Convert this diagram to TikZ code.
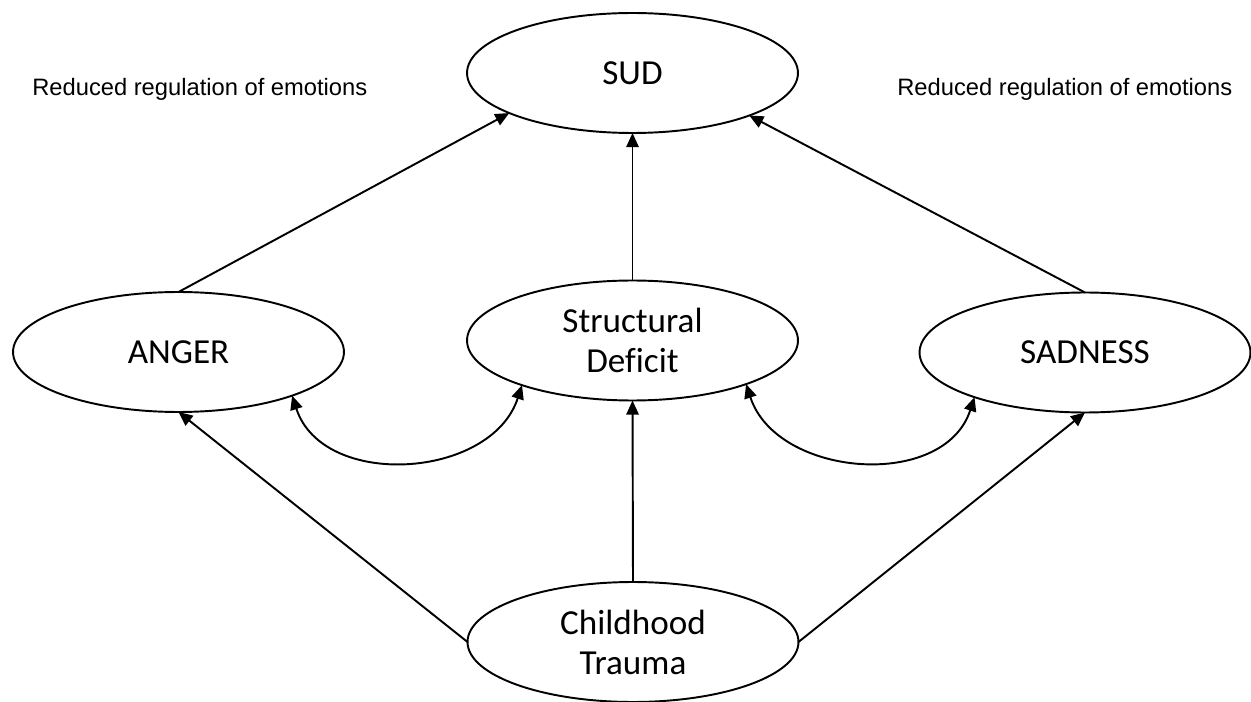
\documentclass[tikz,border=0pt]{standalone}
\usepackage{fontspec}
\setmainfont{Carlito}[Ligatures=NoCommon]
\newfontfamily\notefont{Liberation Sans}
\usepackage{tikz}
\usetikzlibrary{arrows.meta, positioning, shapes.geometric}

\begin{document}
\begin{tikzpicture}[
x=0.02cm, y=-0.02cm,
oval/.style={ellipse, draw, line width=1.1pt, inner sep=0pt, outer sep=0pt, minimum width=6.62cm, minimum height=2.4cm, align=center, font=\fontsize{20}{22.7}\selectfont},
arrow/.style={-{Triangle[length=8pt, width=7pt]}, line width=1.1pt},
dblarrow/.style={{Triangle[length=8pt, width=7pt]}-{Triangle[length=8pt, width=7pt]}, line width=1.1pt},
note/.style={anchor=west, inner sep=0pt, font=\notefont\fontsize{13.5}{16}\selectfont}
]
    \useasboundingbox (0,0) rectangle (1251,702);

    \node[oval] (SUD) at (632.5,73) {SUD};
    \node[oval] (ANGER) at (178.5,352) {ANGER};
    \node[oval] (SD) at (632.5,340.5) {Structural\\Deficit};
    \node[oval] (SADNESS) at (1085,352.5) {SADNESS};
    \node[oval] (CT) at (633,642) {Childhood\\Trauma};

    \node[note] (regL) at (32,89) {Reduced regulation of emotions};
    \node[note] (regR) at (897,89) {Reduced regulation of emotions};

    \draw[arrow] (ANGER.north) -- (SUD.198);
    \draw[arrow] (SD.north) -- (SUD.south);
    \draw[arrow] (SADNESS.north) -- (SUD.-20);
    \draw[arrow] (CT.west) -- (ANGER.south);
    \draw[arrow] (CT.north) -- (SD.south);
    \draw[arrow] (CT.east) -- (SADNESS.south);

    \draw[dblarrow] (ANGER.-21.5) to[out=-72, in=-108, looseness=1.1] (SD.-158);
    \draw[dblarrow] (SD.-21.7) to[out=-72, in=-108, looseness=1.1] (SADNESS.-158.4);

\end{tikzpicture}
\end{document}
